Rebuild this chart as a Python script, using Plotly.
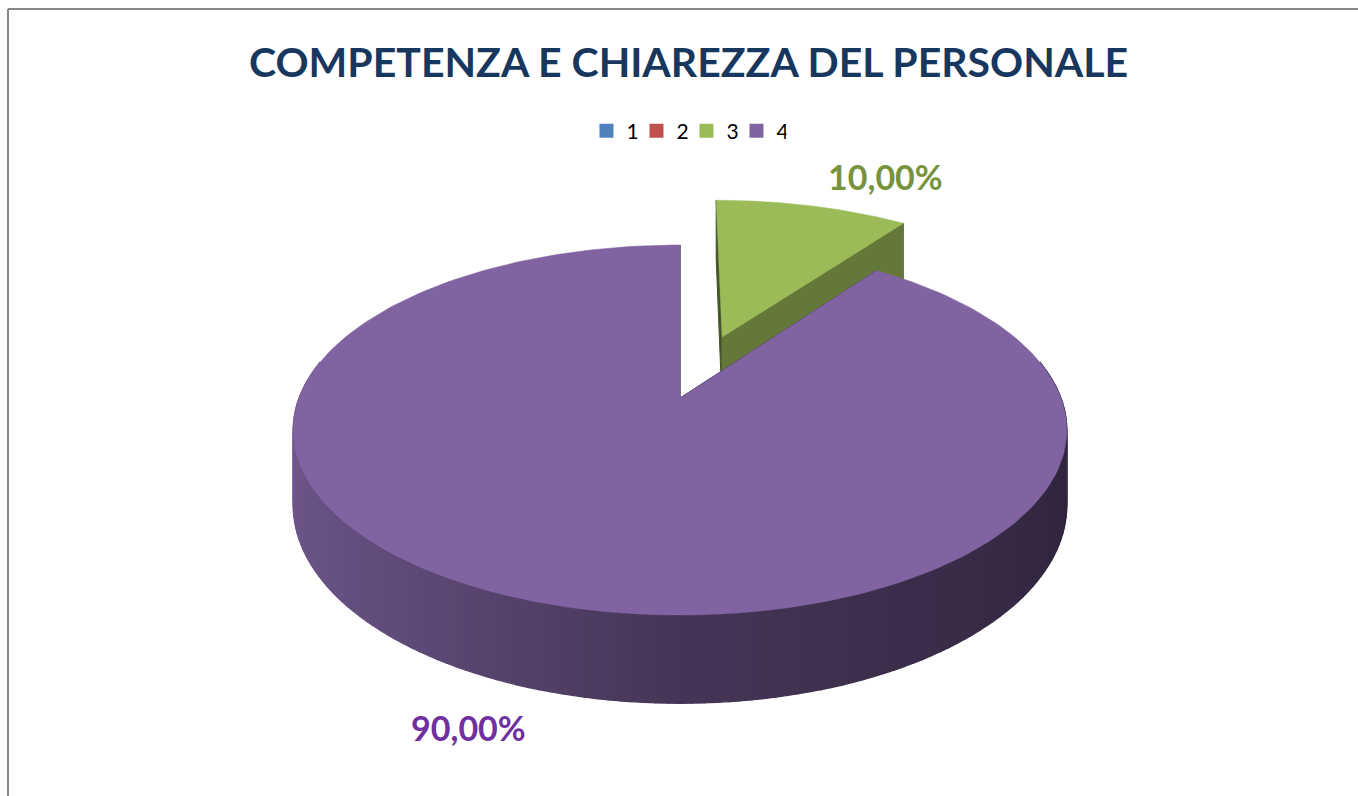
import numpy as np
import plotly.graph_objects as go

# data
categories = ["1", "2", "3", "4"]
values = [0, 0, 10, 90]          # percent
pull = [0, 0, 0.38, 0]
colors = ["#4F81BD", "#C0504D", "#9BBB59", "#8064A2"]
label_colors = ["#4F81BD", "#C0504D", "#77933C", "#7030A0"]
title = "COMPETENZA E CHIAREZZA DEL PERSONALE"

# 3d pie geometry (pixel space, y down)
CX, CY = 680, 398
RX, RY = 381, 179.5
PERSP = 0.173
DEPTH = 73
FONT = "Lato"


def proj(u, v, z=0.0):
    s = 1.0 / (1.0 + PERSP * v)
    return CX + RX * u * s, CY - RY * v * s + DEPTH * z * s


def shade(hexcol, f):
    h = hexcol.lstrip("#")
    r, g, b = (int(h[i:i + 2], 16) for i in (0, 2, 4))
    return "rgb(%d,%d,%d)" % (r * f, g * f, b * f)


def side_factor(nu):
    return float(np.interp(nu, [-1, 0, 1], [0.86, 0.54, 0.38]))


def poly(fig, pts, col, lw=1):
    xs = [p[0] for p in pts] + [pts[0][0]]
    ys = [p[1] for p in pts] + [pts[0][1]]
    fig.add_trace(go.Scatter(x=xs, y=ys, mode="lines", fill="toself",
                             fillcolor=col, line=dict(color=col, width=lw),
                             hoverinfo="skip", showlegend=False))


fig = go.Figure()

total = float(sum(values))
cum = 0.0
slices = []
for i, val in enumerate(values):
    t0 = 2 * np.pi * cum / total
    cum += val
    t1 = 2 * np.pi * cum / total
    if val > 0:
        mid = (t0 + t1) / 2
        slices.append((i, t0, t1, pull[i] * np.sin(mid), pull[i] * np.cos(mid), mid))

# back slices first
slices.sort(key=lambda s: -np.cos(s[5]))

for i, t0, t1, ou, ov, mid in slices:
    base = colors[i]
    # radial cut faces
    for t, nu in [(t0, -np.cos(t0)), (t1, np.cos(t1))]:
        f = 0.56 + 0.11 * nu
        poly(fig, [proj(ou, ov, 0), proj(ou + np.sin(t), ov + np.cos(t), 0),
                   proj(ou + np.sin(t), ov + np.cos(t), 1), proj(ou, ov, 1)],
             shade(base, f))
    # outer wall, in strips for the shading
    n = max(int(np.degrees(t1 - t0) / 1.5), 2)
    th = np.linspace(t0, t1, n + 1)
    for a0, a1 in zip(th[:-1], th[1:]):
        am = (a0 + a1) / 2
        if np.cos(am) > 0.2:
            continue
        p = [proj(ou + np.sin(a0), ov + np.cos(a0), 0),
             proj(ou + np.sin(a1), ov + np.cos(a1), 0),
             proj(ou + np.sin(a1), ov + np.cos(a1), 1),
             proj(ou + np.sin(a0), ov + np.cos(a0), 1)]
        poly(fig, p, shade(base, side_factor(np.sin(am))), lw=1.2)
    # top face
    arc = [proj(ou + np.sin(a), ov + np.cos(a), 0) for a in np.linspace(t0, t1, 240)]
    poly(fig, [proj(ou, ov, 0)] + arc, base, lw=0.5)

# legend entries
for i, c in enumerate(categories):
    fig.add_trace(go.Scatter(x=[None], y=[None], mode="markers", name=c,
                             marker=dict(symbol="square", size=14, color=colors[i])))

# data labels
label_pos = {2: (885, 176), 3: (468, 727)}
for i, (lx, ly) in label_pos.items():
    fig.add_annotation(x=lx, y=ly, xref="x", yref="y", showarrow=False,
                       text="<b>%s%%</b>" % ("%.2f" % values[i]).replace(".", ","),
                       font=dict(family=FONT, size=34, color=label_colors[i]))

fig.add_annotation(x=688, y=61, xref="x", yref="y", showarrow=False,
                   text="<b>%s</b>" % title,
                   font=dict(family=FONT, size=41, color="#17375E"))

# chart frame
fig.add_shape(type="line", x0=8, y0=9, x1=1358, y1=9, xref="x", yref="y",
              line=dict(color="#888888", width=2))
fig.add_shape(type="line", x0=8, y0=9, x1=8, y1=796, xref="x", yref="y",
              line=dict(color="#888888", width=2))

fig.update_layout(
    width=1358, height=796,
    margin=dict(l=0, r=0, t=0, b=0),
    paper_bgcolor="white", plot_bgcolor="white",
    xaxis=dict(range=[0, 1358], visible=False, fixedrange=True),
    yaxis=dict(range=[796, 0], visible=False, fixedrange=True),
    showlegend=True,
    legend=dict(orientation="h", x=0.5055, xanchor="center",
                y=1 - 131 / 796, yanchor="middle",
                font=dict(family=FONT, size=21, color="black"),
                itemwidth=30, tracegroupgap=0,
                entrywidth=5, entrywidthmode="pixels"),
    font=dict(family=FONT),
)

fig.write_html("out.html", config={"displayModeBar": False},
               post_script="document.body.style.margin='0px';")
